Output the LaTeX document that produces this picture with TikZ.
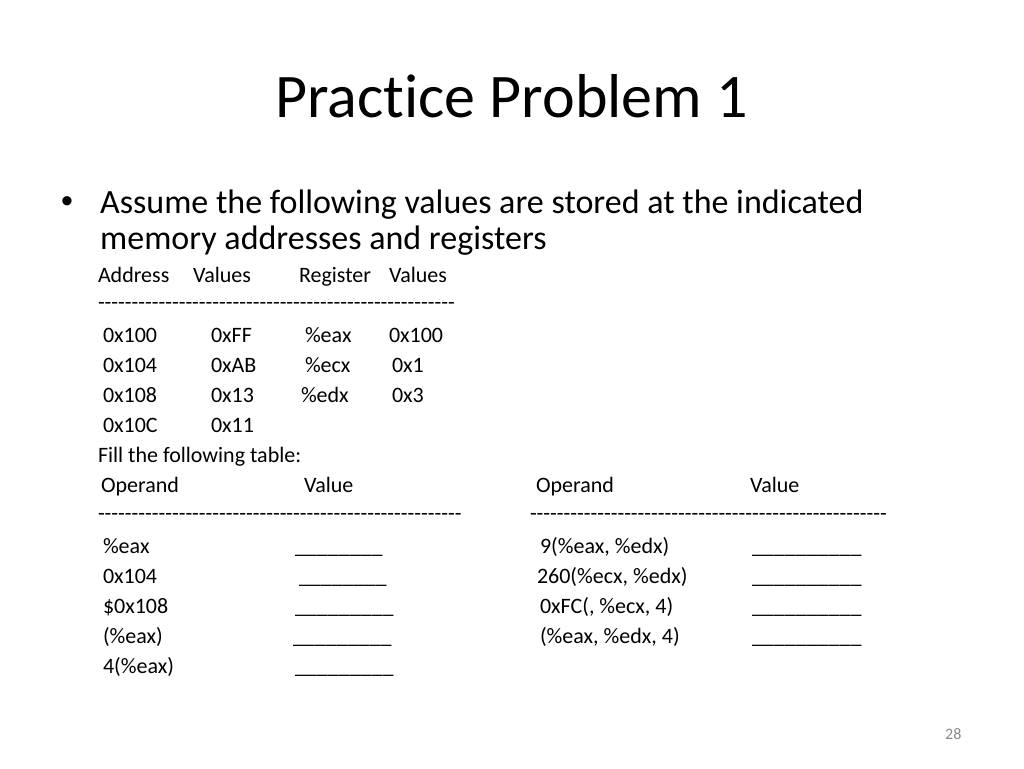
\documentclass[tikz,border=0pt]{standalone}
\usepackage{fontspec}
\setmainfont{Carlito}[Ligatures={TeXOff,CommonOff}]
\newfontfamily\bulletfont{Liberation Sans}
\definecolor{pgnum}{RGB}{137,137,137}
\tikzset{
  txt/.style={anchor=base west, inner sep=0pt, outer sep=0pt, font=\fontsize{22}{26}\selectfont},
  ttl/.style={anchor=base west, inner sep=0pt, font=\fontsize{62}{70}\selectfont},
  bul/.style={anchor=base west, inner sep=0pt, font=\fontsize{34}{40}\selectfont},
}
\begin{document}
\begin{tikzpicture}[x=1pt,y=-1pt]
\useasboundingbox[fill=white] (0,0) rectangle (1024,768);
\node[ttl] (title) at (275,117) {Practice Problem 1};
\node[anchor=base, inner sep=0pt, font=\bulletfont\fontsize{34}{40}\selectfont] (dot) at (67,212) {•};
\node[bul] (l1) at (100,213) {Assume the following values are stored at the indicated};
\node[bul] (l2) at (100,249) {memory addresses and registers};
% memory/register table
\node[txt] (h1) at (98,282) {Address};
\node[txt] (h2) at (193,282) {Values};
\node[txt] (h3) at (299,282) {Register};
\node[txt] (h4) at (389,282) {Values};
\node[txt] (d1) at (98,309) {-----------------------------------------------------};
\node[txt] (a1) at (103,342) {0x100};
\node[txt] (v1) at (211,342) {0xFF};
\node[txt] (r1) at (305,342) {\%eax};
\node[txt] (w1) at (389,342) {0x100};
\node[txt] (a2) at (103,372) {0x104};
\node[txt] (v2) at (211,372) {0xAB};
\node[txt] (r2) at (305,372) {\%ecx};
\node[txt] (w2) at (392,372) {0x1};
\node[txt] (a3) at (103,402) {0x108};
\node[txt] (v3) at (211,402) {0x13};
\node[txt] (r3) at (301,402) {\%edx};
\node[txt] (w3) at (392,402) {0x3};
\node[txt] (a4) at (103,432) {0x10C};
\node[txt] (v4) at (211,432) {0x11};
\node[txt] (fill) at (98,462) {Fill the following table:};
% operand table
\node[txt] (o1) at (101,492) {Operand};
\node[txt] (o2) at (304,492) {Value};
\node[txt] (o3) at (536,492) {Operand};
\node[txt] (o4) at (750,492) {Value};
\node[txt] (d2) at (98,520) {------------------------------------------------------};
\node[txt] (d3) at (530,520) {-----------------------------------------------------};
\node[txt] (p1) at (103,553) {\%eax};
\node[txt] (b1) at (295,553) {\_\_\_\_\_\_\_\_};
\node[txt] (p2) at (103,583) {0x104};
\node[txt] (b2) at (299,583) {\_\_\_\_\_\_\_\_};
\node[txt] (p3) at (103,613) {\$0x108};
\node[txt] (b3) at (295,613) {\_\_\_\_\_\_\_\_\_};
\node[txt] (p4) at (103,643) {(\%eax)};
\node[txt] (b4) at (293,643) {\_\_\_\_\_\_\_\_\_};
\node[txt] (p5) at (103,673) {4(\%eax)};
\node[txt] (b5) at (295,673) {\_\_\_\_\_\_\_\_\_};
\node[txt] (q1) at (540,553) {9(\%eax, \%edx)};
\node[txt] (c1) at (752,553) {\_\_\_\_\_\_\_\_\_\_};
\node[txt] (q2) at (537,583) {260(\%ecx, \%edx)};
\node[txt] (c2) at (752,583) {\_\_\_\_\_\_\_\_\_\_};
\node[txt] (q3) at (540,613) {0xFC(, \%ecx, 4)};
\node[txt] (c3) at (752,613) {\_\_\_\_\_\_\_\_\_\_};
\node[txt] (q4) at (540,643) {(\%eax, \%edx, 4)};
\node[txt] (c4) at (752,643) {\_\_\_\_\_\_\_\_\_\_};
\node[anchor=base west, inner sep=0pt, text=pgnum, font=\fontsize{16}{18}\selectfont] (pg) at (945,739) {28};
\end{tikzpicture}
\end{document}
